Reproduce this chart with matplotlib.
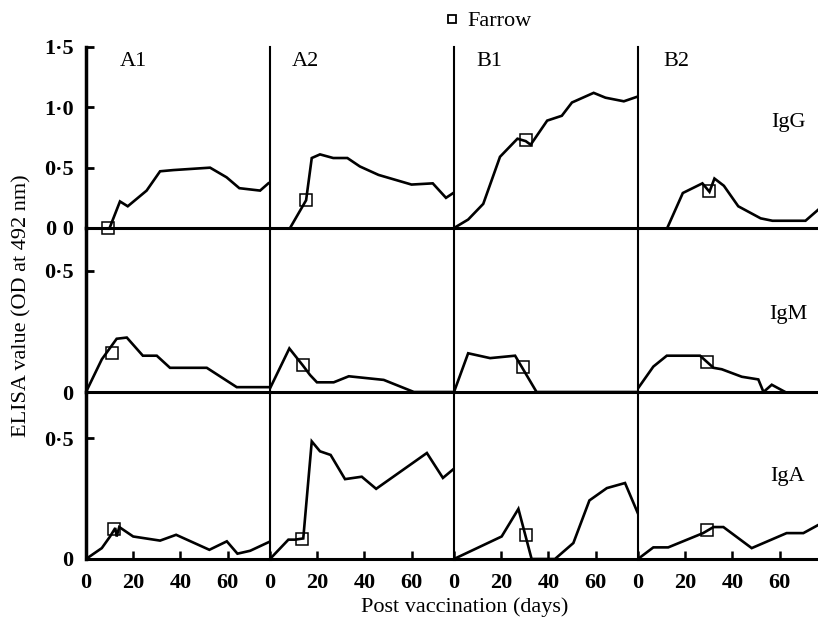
import matplotlib
matplotlib.use('Agg')
import matplotlib.pyplot as plt
from matplotlib.lines import Line2D

plt.rcParams['font.family'] = ['Liberation Serif', 'DejaVu Serif']

# ---------------- data ----------------
panels = ["A1", "A2", "B1", "B2"]
classes = ["IgG", "IgM", "IgA"]
x_ticks = [0, 20, 40, 60]
x_tick_labels = ["0", "20", "40", "60"]
igg_ticks = [0, 0.5, 1.0, 1.5]
igg_tick_labels = ["0 0", "0·5", "1·0", "1·5"]
igm_ticks = [0, 0.5]
igm_tick_labels = ["0", "0·5"]
iga_ticks = [0, 0.5]
iga_tick_labels = ["0", "0·5"]

# IgG
igg_a1_days = [10, 14.4, 17.7, 25.7, 31.4, 37, 52.6, 59.6, 65, 73.8, 77.3]
igg_a1_vals = [0, 0.22, 0.18, 0.31, 0.47, 0.48, 0.50, 0.42, 0.33, 0.31, 0.37]
igg_a2_days = [8.5, 15.3, 17.7, 21.2, 26.8, 32.8, 38.1, 46, 60, 69, 74.6, 77.7]
igg_a2_vals = [0, 0.23, 0.58, 0.61, 0.58, 0.58, 0.51, 0.44, 0.36, 0.37, 0.25, 0.29]
igg_b1_days = [0, 6, 12.4, 19.5, 26.9, 30.4, 32.5, 39.5, 45.7, 50, 59.2, 64.2, 72, 78]
igg_b1_vals = [0, 0.07, 0.20, 0.59, 0.74, 0.72, 0.69, 0.89, 0.93, 1.04, 1.12, 1.08, 1.05, 1.09]
igg_b2_days = [12.4, 19, 27.3, 30.3, 32.4, 36.4, 42.5, 52, 57, 71, 76.3]
igg_b2_vals = [0, 0.29, 0.37, 0.30, 0.41, 0.35, 0.18, 0.08, 0.06, 0.06, 0.15]

# IgM
igm_a1_days = [0, 6.7, 13, 17.3, 24.1, 30, 35.6, 51.2, 63.9, 77.3]
igm_a1_vals = [0, 0.135, 0.22, 0.225, 0.15, 0.15, 0.10, 0.10, 0.02, 0.02]
igm_a2_days = [0, 8.2, 13.9, 17, 19.9, 27, 33.4, 48.2, 61, 78]
igm_a2_vals = [0.015, 0.18, 0.11, 0.07, 0.04, 0.04, 0.065, 0.05, 0, 0]
igm_b1_days = [0, 6, 15.3, 25.9, 35, 78]
igm_b1_vals = [0, 0.16, 0.14, 0.15, 0, 0]
igm_b2_days = [0, 6.5, 12.2, 26.3, 32, 35.5, 44, 51, 53.2, 56.7, 62.4]
igm_b2_vals = [0.015, 0.105, 0.15, 0.15, 0.10, 0.094, 0.063, 0.052, 0, 0.03, 0]

# IgA
iga_a1_days = [0, 6.7, 10.2, 12.4, 13, 14.1, 20, 31.4, 38.2, 52.3, 59.7, 64.2, 69.6, 77.3]
iga_a1_vals = [0, 0.045, 0.093, 0.128, 0.093, 0.132, 0.093, 0.076, 0.10, 0.038, 0.073, 0.022, 0.034, 0.069]
iga_a2_days = [0, 7.8, 10.6, 14.1, 17.7, 21.2, 25.7, 31.8, 38.9, 45, 66.5, 73.3, 77.6]
iga_a2_vals = [0, 0.08, 0.08, 0.085, 0.486, 0.445, 0.43, 0.33, 0.34, 0.29, 0.438, 0.335, 0.37]
iga_b1_days = [0, 20.2, 27.3, 32.9, 42.8, 50.6, 57.4, 64.8, 72.5, 77.9]
iga_b1_vals = [0, 0.093, 0.207, 0, 0, 0.066, 0.242, 0.293, 0.314, 0.19]
iga_b2_days = [0, 6.5, 12.8, 27.6, 32, 36.2, 48.2, 63, 70.1, 76.3]
iga_b2_vals = [0, 0.048, 0.048, 0.107, 0.132, 0.132, 0.045, 0.107, 0.107, 0.14]

# Farrow points (day, value) per class, per panel
farrow_igg_days = [9.3, 15.3, 30.4, 30.0]
farrow_igg_vals = [0.0, 0.23, 0.73, 0.31]
farrow_igm_days = [11.2, 13.9, 29.4, 29.1]
farrow_igm_vals = [0.16, 0.11, 0.105, 0.125]
farrow_iga_days = [11.9, 13.4, 30.5, 29.1]
farrow_iga_vals = [0.125, 0.083, 0.10, 0.12]

series = [
    [(igg_a1_days, igg_a1_vals), (igg_a2_days, igg_a2_vals), (igg_b1_days, igg_b1_vals), (igg_b2_days, igg_b2_vals)],
    [(igm_a1_days, igm_a1_vals), (igm_a2_days, igm_a2_vals), (igm_b1_days, igm_b1_vals), (igm_b2_days, igm_b2_vals)],
    [(iga_a1_days, iga_a1_vals), (iga_a2_days, iga_a2_vals), (iga_b1_days, iga_b1_vals), (iga_b2_days, iga_b2_vals)],
]
farrows = [(farrow_igg_days, farrow_igg_vals), (farrow_igm_days, farrow_igm_vals), (farrow_iga_days, farrow_iga_vals)]
row_ticks = [(igg_ticks, igg_tick_labels), (igm_ticks, igm_tick_labels), (iga_ticks, iga_tick_labels)]

# ---------------- layout ----------------
W, H = 818, 623
fig = plt.figure(figsize=(W / 100, H / 100), dpi=100)
gs = fig.add_gridspec(3, 4, left=86 / W, right=1.0, top=1 - 47 / H, bottom=1 - 559 / H,
                      wspace=0, hspace=0, height_ratios=[181, 164, 167],
                      width_ratios=[184, 184, 184, 180])
ylims = [1.5, 164 / 242, 167 / 242]
xmaxs = [78, 78, 78, 78 * 180 / 184]
FS = 15

for r in range(3):
    for c in range(4):
        ax = fig.add_subplot(gs[r, c])
        ax.patch.set_visible(False)
        ax.set_xlim(0, xmaxs[c])
        ax.set_ylim(0, ylims[r])
        for s in ["top", "right"]:
            ax.spines[s].set_visible(False)
        ax.spines["left"].set_linewidth(2.5 if c == 0 else 1.5)
        ax.spines["bottom"].set_linewidth(2.2)
        d, v = series[r][c]
        ax.plot(d, v, color="black", lw=1.9, solid_joinstyle="miter", zorder=3)
        fd, fv = farrows[r]
        ax.plot([fd[c]], [fv[c]], ls="", marker="s", ms=9, mfc="none", mec="black", mew=1.1,
                zorder=4, clip_on=False)
        if c == 0:
            t, lab = row_ticks[r]
            ax.set_yticks(t)
            ax.set_yticklabels(lab, fontweight="bold")
            ax.tick_params(axis="y", direction="in", length=6, width=2, pad=9, labelsize=16)
        else:
            ax.tick_params(axis="y", left=False, labelleft=False)
        if r == 2:
            ax.set_xticks(x_ticks)
            ax.set_xticklabels(x_tick_labels, fontweight="bold")
            ax.tick_params(axis="x", direction="in", length=6, width=1.8, pad=10, labelsize=16)
        else:
            ax.tick_params(axis="x", bottom=False, labelbottom=False)
        if r == 0:
            lx = [0.185, 0.118, 0.123, 0.141][c]
            ax.text(lx, 1 - 15 / 181, panels[c], transform=ax.transAxes, ha="left", va="center",
                    fontsize=16)

# class labels on the right
for name, yp in zip(classes, [122, 315, 476]):
    fig.text(788 / W, 1 - yp / H, name, ha="center", va="center", fontsize=16)

fig.text(22 / W, 1 - 306 / H, "ELISA value (OD at 492 nm)", rotation=90, ha="center",
         va="center", fontsize=16)
fig.text(465 / W, 1 - 607 / H, "Post vaccination (days)", ha="center", va="center", fontsize=16)

h = Line2D([], [], ls="", marker="s", ms=6, mfc="white", mec="black", mew=1.3)
fig.legend(handles=[h], labels=["Farrow"], loc="center left", bbox_to_anchor=(441 / W, 1 - 21 / H),
           frameon=False, handletextpad=0.2, handlelength=1.0, fontsize=16, borderaxespad=0,
           borderpad=0)

fig.savefig("out.png", dpi=100)
